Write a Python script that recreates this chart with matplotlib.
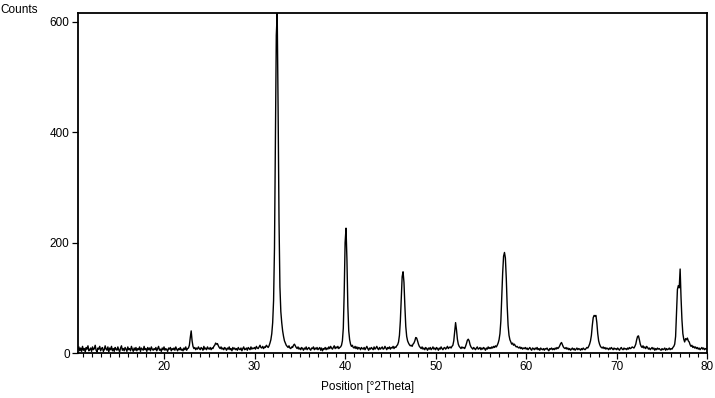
import numpy as np
import matplotlib
matplotlib.use('Agg')
import matplotlib.pyplot as plt
from matplotlib.ticker import MultipleLocator

plt.rcParams['font.family'] = ['Liberation Sans', 'DejaVu Sans']

# scan start / step (deg 2theta), counts, one row per degree
start = 10.5
step = 0.1
counts = [
    6, 11, 4, 9, 3,                              # 10.5-10.9
    12, 5, 8, 2, 10, 7, 13, 4, 6, 9,             # 11
    3, 11, 6, 8, 14, 5, 2, 9, 7, 12,             # 12
    4, 8, 10, 3, 6, 13, 7, 5, 11, 2,             # 13
    9, 6, 12, 4, 8, 3, 10, 7, 5, 11,             # 14
    6, 2, 9, 13, 5, 8, 4, 10, 7, 3,              # 15
    11, 6, 8, 4, 12, 7, 3, 9, 5, 10,             # 16
    4, 8, 6, 11, 3, 9, 7, 5, 12, 6,              # 17
    8, 3, 10, 6, 9, 4, 11, 7, 5, 8,              # 18
    6, 10, 4, 8, 12, 5, 7, 3, 9, 6,              # 19
    11, 5, 8, 6, 3, 9, 7, 10, 4, 8,              # 20
    6, 9, 5, 11, 7, 4, 8, 6, 10, 5,              # 21
    7, 4, 9, 6, 11, 5, 8, 9, 14, 28,             # 22
    40, 22, 12, 8, 10, 6, 9, 7, 11, 8,           # 23
    6, 10, 8, 5, 12, 7, 9, 6, 11, 8,             # 24
    7, 10, 6, 9, 8, 12, 14, 18, 16, 17,          # 25
    13, 10, 8, 11, 7, 9, 6, 10, 8, 5,            # 26
    9, 7, 11, 6, 8, 4, 10, 7, 9, 6,              # 27
    8, 5, 10, 7, 6, 9, 4, 8, 11, 6,              # 28
    7, 9, 5, 10, 8, 6, 11, 7, 9, 8,              # 29
    10, 7, 12, 9, 8, 11, 14, 10, 9, 12,          # 30
    8, 11, 10, 14, 12, 10, 13, 18, 24, 35,       # 31
    55, 95, 190, 390, 575, 615, 440, 240, 120, 75,  # 32
    55, 40, 30, 22, 18, 14, 12, 10, 13, 9,       # 33
    8, 11, 10, 14, 16, 13, 10, 8, 11, 7,         # 34
    9, 6, 10, 8, 5, 9, 7, 11, 6, 8,              # 35
    10, 7, 5, 9, 8, 11, 6, 9, 7, 10,             # 36
    6, 8, 10, 5, 9, 4, 8, 7, 10, 6,              # 37
    9, 7, 11, 8, 12, 9, 7, 10, 13, 8,            # 38
    11, 9, 12, 8, 10, 11, 14, 22, 45, 110,       # 39
    200, 226, 170, 85, 40, 24, 16, 12, 14, 10,   # 40
    9, 12, 8, 11, 7, 10, 9, 6, 10, 8,            # 41
    7, 10, 6, 9, 12, 8, 5, 9, 7, 10,             # 42
    8, 6, 11, 7, 9, 12, 8, 6, 10, 7,             # 43
    9, 11, 7, 8, 12, 9, 6, 10, 8, 11,            # 44
    7, 10, 9, 12, 8, 11, 10, 13, 15, 20,         # 45
    32, 58, 100, 138, 147, 128, 85, 48, 30, 22,  # 46
    18, 15, 13, 14, 12, 16, 18, 22, 28, 27,      # 47
    22, 16, 12, 10, 8, 11, 7, 9, 6, 10,          # 48
    8, 5, 9, 7, 10, 6, 8, 11, 7, 9,              # 49
    6, 10, 8, 5, 9, 7, 11, 8, 6, 9,              # 50
    10, 7, 9, 12, 8, 10, 11, 9, 12, 14,          # 51
    22, 38, 55, 42, 25, 16, 12, 10, 8, 11,       # 52
    9, 10, 8, 12, 17, 23, 25, 22, 15, 11,        # 53
    9, 7, 10, 8, 6, 9, 11, 7, 8, 10,             # 54
    6, 9, 7, 10, 8, 5, 9, 7, 11, 8,              # 55
    10, 8, 11, 9, 12, 10, 13, 11, 14, 18,        # 56
    24, 35, 58, 100, 145, 175, 182, 172, 135, 85,  # 57
    50, 32, 24, 20, 16, 18, 14, 16, 13, 11,      # 58
    12, 10, 9, 11, 8, 10, 7, 9, 8, 10,           # 59
    7, 9, 6, 8, 10, 7, 5, 9, 8, 6,               # 60
    9, 7, 10, 6, 8, 5, 9, 7, 6, 8,               # 61
    5, 8, 7, 9, 6, 4, 8, 7, 9, 6,                # 62
    8, 6, 9, 7, 10, 8, 10, 13, 17, 19,           # 63
    15, 11, 9, 8, 10, 7, 9, 6, 8, 5,             # 64
    7, 9, 6, 8, 5, 7, 9, 6, 8, 7,                # 65
    5, 8, 6, 9, 7, 6, 8, 10, 9, 12,              # 66
    16, 22, 32, 50, 64, 68, 67, 68, 55, 35,      # 67
    22, 16, 12, 10, 9, 11, 8, 10, 7, 9,          # 68
    8, 6, 9, 7, 10, 8, 6, 9, 7, 8,               # 69
    6, 9, 7, 5, 8, 10, 7, 6, 9, 7,               # 70
    8, 6, 9, 7, 10, 8, 9, 11, 10, 9,             # 71
    12, 16, 24, 30, 31, 24, 16, 12, 10, 13,      # 72
    9, 11, 8, 12, 10, 7, 9, 6, 8, 10,            # 73
    7, 9, 5, 8, 6, 9, 7, 8, 6, 5,                # 74
    8, 6, 7, 9, 5, 8, 6, 7, 9, 6,                # 75
    8, 7, 10, 12, 16, 30, 75, 115, 122, 118,     # 76
    152, 100, 60, 35, 25, 20, 26, 24, 27, 22,    # 77
    20, 15, 12, 14, 10, 12, 9, 11, 8, 10,        # 78
    7, 9, 6, 8, 10, 7, 9, 6, 8, 7,               # 79
    9,                                           # 80.0
]
two_theta = np.round(start + step * np.arange(len(counts)), 1)

x_ticks = [20, 30, 40, 50, 60, 70, 80]
y_ticks = [0, 200, 400, 600]

fig = plt.figure(figsize=(7.15, 3.98), dpi=100)
ax = fig.add_axes([78 / 715, 45 / 398, (707.3 - 78) / 715, (353 - 12.7) / 398])

ax.plot(two_theta, counts, color='black', lw=1.0)

ax.set_xlim(10.5, 80)
ax.set_ylim(0, 616)
ax.set_xticks(x_ticks)
ax.set_yticks(y_ticks)
ax.xaxis.set_minor_locator(MultipleLocator(1))
ax.tick_params(axis='both', which='major', direction='out', length=4, width=0.9,
               labelsize=8.5, pad=2)
ax.tick_params(axis='x', which='minor', direction='out', length=3, width=0.8)
for s in ax.spines.values():
    s.set_linewidth(1.3)

fig.text(0.0, 0.99, 'Counts', ha='left', va='top', fontsize=8.5)
fig.text(368 / 715, 1 - 387 / 398, 'Position [°2Theta]', ha='center', va='center',
         fontsize=8.5)

fig.savefig('out.png', dpi=100)
